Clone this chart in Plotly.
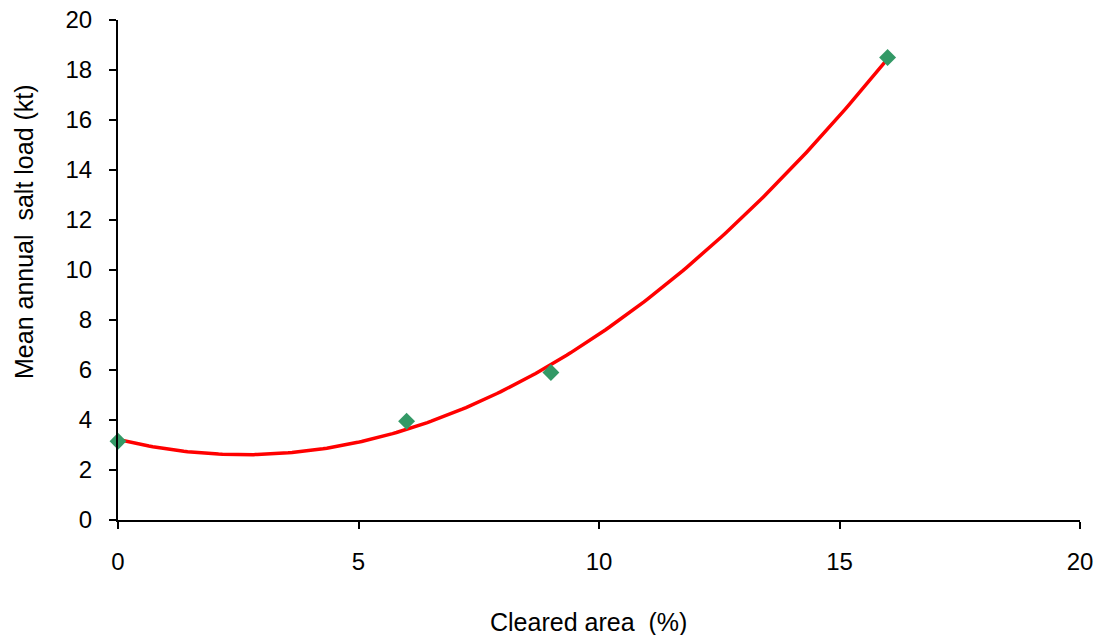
import numpy as np
import plotly.graph_objects as go

cleared_area = [0, 6, 9, 16]
salt_load = [3.15, 3.95, 5.9, 18.5]
x_ticks = [0, 5, 10, 15, 20]
y_ticks = [0, 2, 4, 6, 8, 10, 12, 14, 16, 18, 20]
x_title = "Cleared area\u00a0 (%)"
y_title = "Mean annual\u00a0 salt load (kt)"

# second-order polynomial trendline fitted to the data
coef = np.polyfit(cleared_area, salt_load, 2)
fit_x = np.linspace(min(cleared_area), max(cleared_area), 200)
fit_y = np.polyval(coef, fit_x)

FONT = "Liberation Sans, Arial, sans-serif"

fig = go.Figure()
fig.add_trace(go.Scatter(x=fit_x, y=fit_y, mode="lines",
                         line=dict(color="#ff0000", width=3.5), showlegend=False))
fig.add_trace(go.Scatter(x=cleared_area, y=salt_load, mode="markers",
                         marker=dict(symbol="diamond", size=13, color="#339966"),
                         showlegend=False, cliponaxis=False))

axis_common = dict(showgrid=False, zeroline=False, showline=True, linecolor="black",
                   linewidth=2, ticks="outside", ticklen=7, tickwidth=2, tickcolor="black",
                   tickfont=dict(family=FONT, size=24, color="black"))
fig.update_xaxes(range=[0, 20], tickvals=x_ticks, ticklabelstandoff=12, **axis_common)
fig.update_yaxes(range=[0, 20], tickvals=y_ticks, ticklabelstandoff=12, **axis_common)

fig.add_annotation(text=x_title, xref="paper", yref="paper", x=0.4886, y=0,
                   xanchor="center", yanchor="middle", yshift=-102, showarrow=False,
                   font=dict(family=FONT, size=25, color="black"))
fig.add_annotation(text=y_title, xref="paper", yref="paper", x=0, y=0.576,
                   xanchor="center", yanchor="middle", xshift=-94, textangle=-90,
                   showarrow=False, font=dict(family=FONT, size=25, color="black"))

fig.update_layout(width=1098, height=635, plot_bgcolor="white", paper_bgcolor="white",
                  font=dict(family=FONT, size=24, color="black"),
                  margin=dict(l=118, r=18, t=20, b=115, autoexpand=False))
fig.write_html("out.html", config={"displayModeBar": False},
               post_script="document.body.style.margin='0';document.body.style.overflow='hidden';")
